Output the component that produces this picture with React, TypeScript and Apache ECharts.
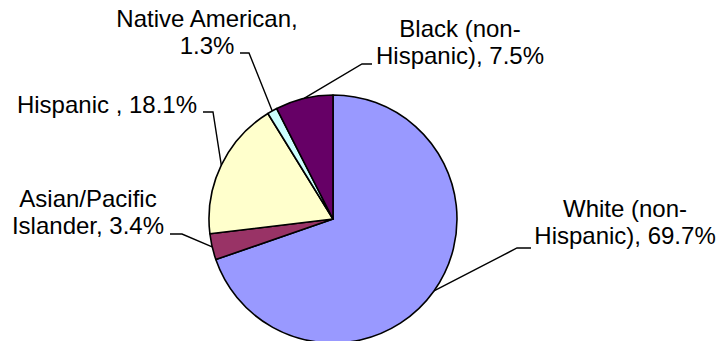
import React, { useEffect, useRef } from "react";
import * as echarts from "echarts";

// Share of population by race / ethnicity (percent)
const categories = [
  "White (non-Hispanic)",
  "Asian/Pacific Islander",
  "Hispanic ",
  "Native American",
  "Black (non-Hispanic)",
];
const shares = [69.7, 3.4, 18.1, 1.3, 7.5];
const colors = ["#9999FF", "#993366", "#FFFFCC", "#CCFFFF", "#660066"];

// Label placement: text anchor (center x, top y) and the leader's elbow / end
const labelPlacement = [
  { x: 625, y: 195, elbow: [517, 248], end: [531, 248] },
  { x: 88, y: 185, elbow: [182, 234], end: [170, 234] },
  { x: 107, y: 91, elbow: [213, 112], end: [203, 112] },
  { x: 207, y: 5, elbow: [249, 53], end: [240, 53] },
  { x: 460, y: 15, elbow: [362, 64], end: [372, 64] },
];

function labelText(name: string, value: number): string {
  const txt = `${name}, ${value.toFixed(1)}%`;
  return txt
    .replace("(non-", "(non-\n")
    .replace("Asian/Pacific ", "Asian/Pacific\n")
    .replace("Native American, ", "Native American,\n");
}

export default function App() {
  const ref = useRef<HTMLDivElement>(null);

  useEffect(() => {
    if (!ref.current) return;
    const chart = echarts.init(ref.current, undefined, { renderer: "svg" });
    chart.setOption({
      animation: false,
      backgroundColor: "#ffffff",
      series: [
        {
          type: "pie",
          center: [333, 219],
          radius: 124,
          startAngle: 90,
          clockwise: true,
          avoidLabelOverlap: false,
          minShowLabelAngle: 0,
          itemStyle: { borderColor: "#000000", borderWidth: 1.6 },
          emphasis: { disabled: true },
          label: {
            show: true,
            position: "outside",
            color: "#000000",
            fontFamily: "'Liberation Sans', Arial, sans-serif",
            fontSize: 24,
            lineHeight: 27,
            align: "center",
            formatter: (p: any) => labelText(p.name, p.value),
          },
          labelLine: {
            show: true,
            lineStyle: { color: "#000000", width: 1.4 },
          },
          labelLayout: (p: any) => {
            const pl = labelPlacement[p.dataIndex];
            const start = p.labelLinePoints ? p.labelLinePoints[0] : pl.elbow;
            return {
              x: pl.x,
              y: pl.y,
              align: "center",
              verticalAlign: "top",
              labelLinePoints: [start, pl.elbow, pl.end],
            };
          },
          data: categories.map((name, i) => ({
            name,
            value: shares[i],
            itemStyle: { color: colors[i] },
          })),
        },
      ],
    });
    return () => chart.dispose();
  }, []);

  return (
    <div
      ref={ref}
      style={{ position: "fixed", left: 0, top: 0, width: 717, height: 341 }}
    />
  );
}
